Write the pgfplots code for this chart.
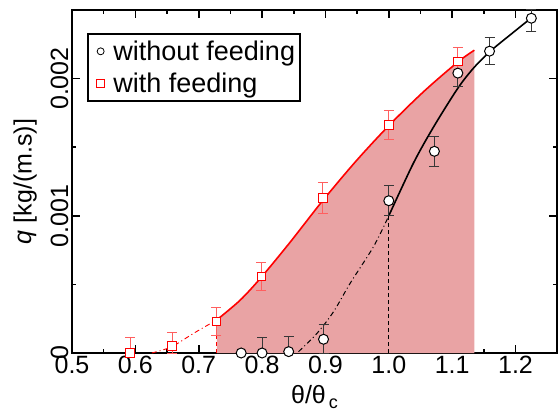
\documentclass[border=0pt]{standalone}
\usepackage{fontspec}
\setmainfont{Liberation Sans}
\usepackage{pgfplots}
\pgfplotsset{compat=1.18}
\definecolor{fillpink}{RGB}{233,163,164}
\definecolor{errred}{RGB}{255,95,95}
\definecolor{errgray}{RGB}{55,55,55}

\begin{document}
\begin{tikzpicture}[x=1pt,y=1pt]
\path[use as bounding box] (0,0) rectangle (559,413);
\begin{axis}[
  at={(72pt,60pt)}, anchor=south west,
  scale only axis, width=485pt, height=343pt,
  xmin=0.5, xmax=1.2655, ymin=0, ymax=0.0025,
  xtick={0.5,0.6,0.7,0.8,0.9,1.0,1.1,1.2},
  ytick={0,0.001,0.002},
  minor x tick num=1, minor y tick num=1,
  scaled y ticks=false,
  major tick length=8pt, minor tick length=4pt,
  every tick/.style={black, line width=1.6pt},
  axis line style={line width=1.6pt},
  tick label style={font=\fontsize{25}{25}\selectfont},
  xticklabel style={/pgf/number format/.cd, fixed, fixed zerofill, precision=1, assume math mode=true},
  yticklabel style={rotate=90, anchor=south, /pgf/number format/.cd, fixed, precision=3, assume math mode=true},
  label style={font=\fontsize{25}{25}\selectfont},
  xlabel={θ/θ\raisebox{-0.4ex}{\fontsize{18}{18}\selectfont\,c}},
  xlabel style={yshift=-4pt},
  ylabel={\textit{q} [kg/(m.s)]},
  ylabel style={yshift=7pt},
  clip=false,
  legend style={at={(0.031,0.933)}, anchor=north west, draw=black, line width=1.6pt,
    font=\fontsize{27}{30}\selectfont, inner xsep=3pt, inner ysep=5pt,
    row sep=7pt, column sep=4pt},
  legend image code/.code={\path (0pt,0pt) (15pt,0pt);
    \draw[#1] plot coordinates {(9pt,0pt)};},
  legend cell align=left,
]
  % shaded region under the fed curve
  \addplot[forget plot, fill=fillpink, draw=none] coordinates {
    (0.7285,0) (0.7285,0.000241) (0.7654,0.000385) (0.798,0.000548)
    (0.844,0.000806) (0.8944,0.001103) (0.947,0.001392) (1.0,0.001657)
    (1.055,0.001905) (1.109,0.002121) (1.135,0.002207) (1.135,0)} \closedcycle;

  \addlegendimage{only marks, mark=o, mark size=3.5pt, mark options={draw=black, line width=0.8pt}}
  \addlegendentry{without feeding}
  \addlegendimage{only marks, mark=square, mark size=3.8pt, mark options={draw=red, line width=0.8pt}}
  \addlegendentry{with feeding}

  % vertical dashed guides
  \addplot[forget plot, red, line width=1.2pt, dash pattern=on 4pt off 3pt]
    coordinates {(0.7285,0) (0.7285,0.000241)};
  \addplot[forget plot, black, line width=1pt, dash pattern=on 4pt off 3pt]
    coordinates {(1.0,0) (1.0,0.001)};

  % dash-dot extrapolations
  \addplot[forget plot, red, line width=0.9pt, smooth, dash pattern=on 5pt off 3pt on 1pt off 3pt]
    coordinates {(0.626,0) (0.6575,0.000046) (0.6917,0.000143) (0.7285,0.000241)};
  \addplot[forget plot, black, line width=1pt, smooth, dash pattern=on 5pt off 3pt on 1pt off 3pt]
    coordinates {(0.8576,0.00001) (0.8866,0.000143) (0.9128,0.000301) (0.939,0.000508)
                 (0.976,0.000776) (1.0,0.001)};

  % fitted curves
  \addplot[forget plot, red, line width=1.6pt, smooth] coordinates {
    (0.7285,0.000241) (0.7654,0.000385) (0.798,0.000548)
    (0.844,0.000806) (0.8944,0.001103) (0.947,0.001392) (1.0,0.001657)
    (1.055,0.001905) (1.109,0.002121) (1.135,0.002207)};
  \addplot[forget plot, black, line width=1.6pt, smooth] coordinates {
    (1.0,0.001) (1.039,0.001385) (1.071,0.00165) (1.109,0.00193)
    (1.134,0.002078) (1.1603,0.0022) (1.192,0.00232) (1.225,0.002443)};

  % without feeding
  \addplot[forget plot, only marks, mark=*, mark size=5pt,
    mark options={fill=white, draw=black, line width=1pt},
    error bars/.cd, y dir=both, y explicit,
    error bar style={errgray, line width=1pt},
    error mark options={rotate=90, mark size=5pt, errgray, line width=1pt}]
    coordinates {
      (0.767,0) += (0,0) -= (0,0)
      (0.8,0) += (0,0.00011) -= (0,0)
      (0.842,0.00001) += (0,0.00011) -= (0,0.00001)
      (0.897,0.0001) += (0,0.00011) -= (0,0.0001)
      (1.0,0.00111) +- (0,0.00011)
      (1.072,0.00147) +- (0,0.00011)
      (1.109,0.00204) +- (0,0.0001)
      (1.159,0.0022) +- (0,0.0001)
      (1.225,0.00244) += (0,0.00006) -= (0,0.0001)
    };

  % with feeding
  \addplot[forget plot, only marks, mark=square*, mark size=4.3pt,
    mark options={fill=white, draw=red, line width=1pt},
    error bars/.cd, y dir=both, y explicit,
    error bar style={errred, line width=1pt},
    error mark options={rotate=90, mark size=5pt, errred, line width=1pt}]
    coordinates {
      (0.592,0) += (0,0.00011) -= (0,0)
      (0.658,0.00005) += (0,0.0001) -= (0,0.00005)
      (0.728,0.000229) +- (0,0.000105)
      (0.799,0.000557) +- (0,0.000105)
      (0.896,0.00113) +- (0,0.00011)
      (1.0,0.001664) +- (0,0.000105)
      (1.109,0.002126) +- (0,0.0001)
    };
\end{axis}
\end{tikzpicture}
\end{document}
